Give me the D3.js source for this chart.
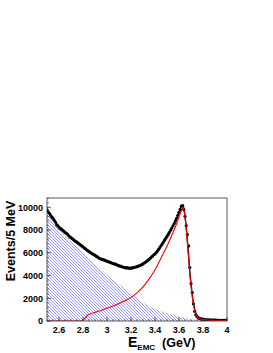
<!DOCTYPE html>
<html><head><meta charset="utf-8">
<script src="https://cdn.jsdelivr.net/npm/d3@7"></script>
<style>
body{margin:0;background:#fff}
svg{display:block}
text{font-family:"Liberation Sans",Arial,Helvetica,sans-serif;font-weight:bold;fill:#000}
</style>
</head><body><svg id="c" width="273" height="353"></svg>
<script>
// Histogram of data: bin start and width (GeV), counts
const binStart = 2.50, binWidth = 0.01;
const events = [
9780,9600,9470,9300,9150,9030,8860,8700,8480,8370,
8260,8150,8080,7980,7900,7800,7720,7650,7520,7400,
7330,7250,7160,7070,6990,6930,6850,6770,6680,6600,
6530,6420,6350,6260,6190,6100,6040,5960,5900,5840,
5780,5700,5640,5560,5500,5450,5420,5380,5350,5300,
5260,5210,5180,5140,5100,5060,5020,5000,4960,4900,
4850,4830,4800,4750,4730,4700,4660,4700,4650,4620,
4680,4660,4700,4720,4750,4780,4820,4860,4900,4960,
5020,5100,5170,5250,5330,5420,5520,5620,5720,5830,
5900,6020,6150,6300,6460,6620,6780,6950,7110,7280,
7450,7620,7800,7980,8170,8370,8580,8800,9040,9300,
9560,9820,10100,10150,9800,9200,8400,7600,6600,4700,
3300,2500,1500,850,560,400,300,230,190,160,
140,130,120,110,100,95,90,85,80,75,
72,70,68,65,62,60,58,56,54,52,
50
];

// Background component (hatched)
const bkgE = [2.50,2.55,2.60,2.65,2.70,2.75,2.80,2.85,2.90,2.95,3.00,3.05,3.10,3.15,3.20,3.25,3.30,3.35,3.40,3.45,3.50,3.55,3.60,3.65,3.70,3.75,3.80];
const bkgN = [9600,8800,8050,7500,7000,6550,6050,5500,5000,4500,4050,3600,3200,2820,2450,2000,1600,1320,1080,860,680,530,400,270,150,60,0];

// Signal component (red)
const sigE = [2.50,2.60,2.70,2.79,2.80,2.82,2.84,2.86,2.90,2.95,3.00,3.05,3.10,3.15,3.20,3.25,3.30,3.35,3.40,3.45,3.50,3.55,3.58,3.60,3.62,3.635,3.65,3.66,3.67,3.68,3.69,3.70,3.71,3.72,3.73,3.74,3.75,3.77,3.80,3.85,3.90,4.00];
const sigN = [0,0,0,0,50,300,530,620,760,930,1120,1320,1540,1780,2080,2480,3000,3680,4500,5550,6600,7780,8550,9150,9700,9950,9100,8100,6900,5600,4100,3150,2200,1450,950,620,420,220,120,70,50,30];

// Total fit (black line)
const totE = [2.50,2.55,2.60,2.65,2.70,2.75,2.80,2.85,2.90,2.95,3.00,3.05,3.10,3.15,3.20,3.25,3.30,3.35,3.40,3.45,3.50,3.55,3.58,3.60,3.62,3.635,3.65,3.66,3.67,3.68,3.69,3.70,3.71,3.72,3.73,3.74,3.75,3.77,3.80,3.85,3.90,4.00];
const totN = [9750,8980,8270,7790,7330,6920,6520,6110,5770,5450,5250,5060,4870,4720,4680,4790,5020,5400,5900,6620,7450,8370,9040,9560,10050,10150,9250,8300,7050,5750,4400,3300,2350,1600,1050,700,480,270,170,110,80,55];

const xTicks = [2.6,2.8,3,3.2,3.4,3.6,3.8,4];
const xTickLabels = ["2.6","2.8","3","3.2","3.4","3.6","3.8","4"];
const yTicks = [0,2000,4000,6000,8000,10000];
const yTickLabels = ["0","2000","4000","6000","8000","10000"];

const svg = d3.select("#c");
const L = 47, R = 227, T = 198, B = 321;
const x = d3.scaleLinear().domain([2.5, 4.0]).range([L, R]);
const y = d3.scaleLinear().domain([0, 10820]).range([B, T]);

const defs = svg.append("defs");
const pat = defs.append("pattern").attr("id","hatch").attr("patternUnits","userSpaceOnUse")
  .attr("width",3).attr("height",3);
pat.append("path").attr("d","M-1,-1L4,4M-1,2L1,4M2,-1L4,1")
  .attr("stroke","#5a5aff").attr("stroke-width",0.65).attr("fill","none");
defs.append("clipPath").attr("id","clip").append("rect")
  .attr("x",L).attr("y",T).attr("width",R-L).attr("height",B-T);

const g = svg.append("g").attr("clip-path","url(#clip)");

// data points
const pts = events.map((n,i)=>({e: binStart + i*binWidth, n}));
g.selectAll("circle.d").data(pts).enter().append("circle")
  .attr("cx",d=>x(d.e)).attr("cy",d=>y(d.n)).attr("r",1.6).attr("fill","#000");

// background hatched area
const bkg = bkgE.map((e,i)=>({e, n:bkgN[i]}));
g.append("path").datum(bkg)
  .attr("d", d3.area().x(d=>x(d.e)).y0(y(0)).y1(d=>y(d.n)).curve(d3.curveMonotoneX))
  .attr("fill","url(#hatch)");

// total fit
const tot = totE.map((e,i)=>({e, n:totN[i]}));
g.append("path").datum(tot)
  .attr("d", d3.line().x(d=>x(d.e)).y(d=>y(d.n)).curve(d3.curveMonotoneX))
  .attr("fill","none").attr("stroke","#000").attr("stroke-width",1.4);

// signal
const sig = sigE.map((e,i)=>({e, n:sigN[i]}));
g.append("path").datum(sig)
  .attr("d", d3.line().x(d=>x(d.e)).y(d=>y(d.n)).curve(d3.curveMonotoneX))
  .attr("fill","none").attr("stroke","#ff0000").attr("stroke-width",1.1);

// frame
svg.append("rect").attr("x",L).attr("y",T).attr("width",R-L).attr("height",B-T)
  .attr("fill","none").attr("stroke","#333").attr("stroke-width",0.8);

// x ticks
const xMinor = d3.range(2.5, 4.0001, 0.05);
svg.selectAll("line.xm").data(xMinor).enter().append("line")
  .attr("x1",d=>x(d)).attr("x2",d=>x(d)).attr("y1",B).attr("y2",B-2)
  .attr("stroke","#333").attr("stroke-width",0.6);
svg.selectAll("line.xM").data(xTicks).enter().append("line")
  .attr("x1",d=>x(d)).attr("x2",d=>x(d)).attr("y1",B).attr("y2",B-4)
  .attr("stroke","#333").attr("stroke-width",0.7);
svg.selectAll("text.xl").data(xTicks).enter().append("text")
  .attr("x",d=>x(d)).attr("y",333).attr("text-anchor","middle")
  .attr("font-size",9).text((d,i)=>xTickLabels[i]);

// y ticks
const yMinor = d3.range(0, 10801, 400);
svg.selectAll("line.ym").data(yMinor).enter().append("line")
  .attr("x1",L).attr("x2",L+2).attr("y1",d=>y(d)).attr("y2",d=>y(d))
  .attr("stroke","#333").attr("stroke-width",0.6);
svg.selectAll("line.yM").data(yTicks).enter().append("line")
  .attr("x1",L).attr("x2",L+4).attr("y1",d=>y(d)).attr("y2",d=>y(d))
  .attr("stroke","#333").attr("stroke-width",0.7);
svg.selectAll("text.yl").data(yTicks).enter().append("text")
  .attr("x",43).attr("y",d=>y(d)+3.3).attr("text-anchor","end")
  .attr("font-size",9).text((d,i)=>yTickLabels[i]);

// axis titles
svg.append("text").attr("transform","translate(15,241) rotate(-90)")
  .attr("text-anchor","middle").attr("font-size",12.5).text("Events/5 MeV");

const xt = svg.append("text").attr("x",128).attr("y",347).attr("font-size",14);
xt.append("tspan").text("E");
xt.append("tspan").attr("font-size",8).attr("dy",3).text("EMC");
xt.append("tspan").attr("font-size",12.5).attr("dy",-3).text("  (GeV)").attr("xml:space","preserve");
</script>
</body></html>
